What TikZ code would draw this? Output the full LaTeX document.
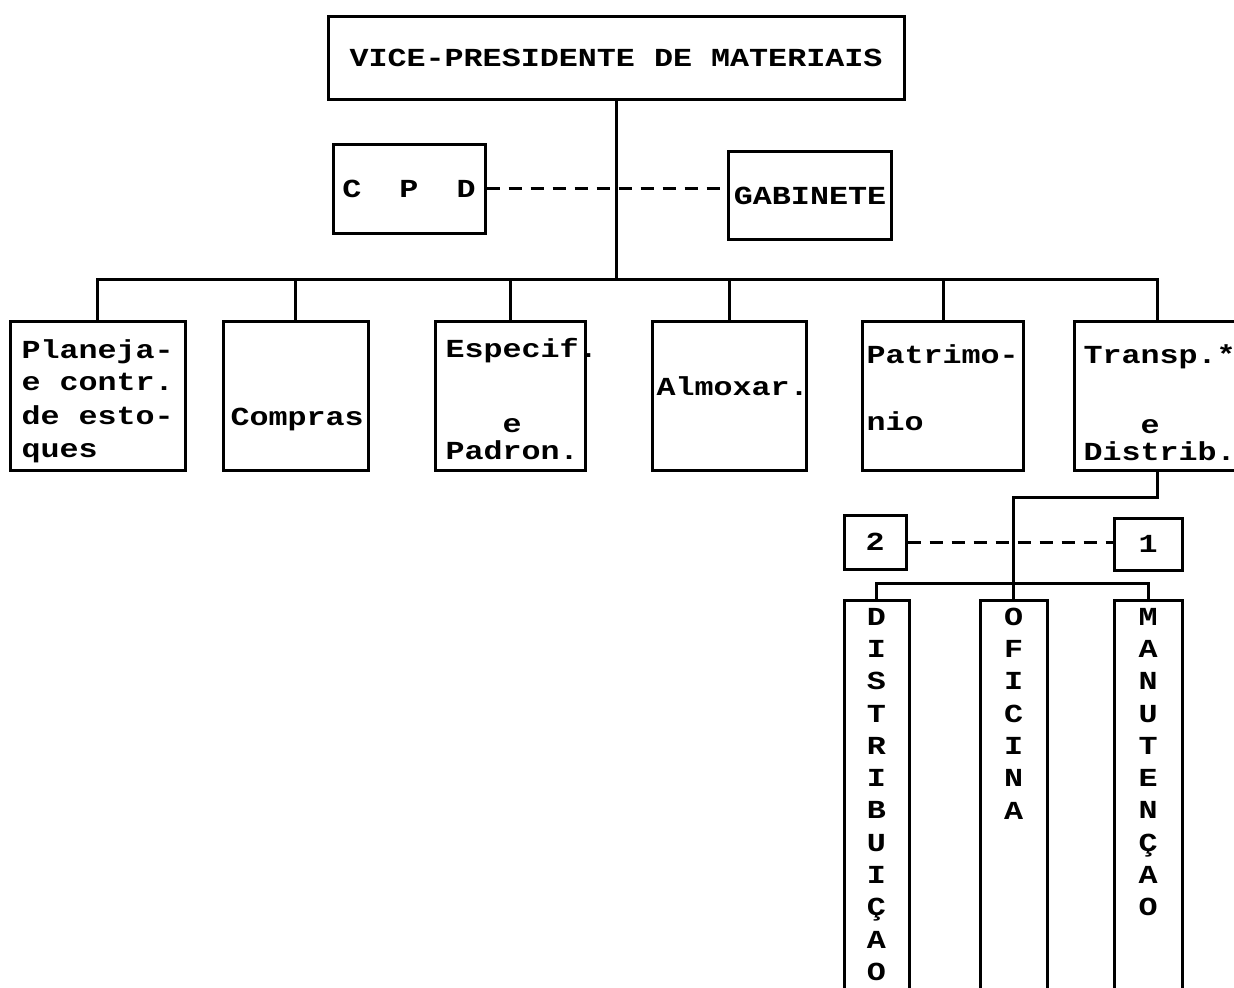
\documentclass[tikz,border=0pt]{standalone}
\usepackage{fontspec}
\newfontfamily\maquina[FakeStretch=1.22]{Liberation Mono}
\begin{document}
\begin{tikzpicture}[x=0.5pt,y=-0.5pt,line width=1.5pt]
\tikzstyle{every node}=[font=\maquina\bfseries\fontsize{13}{16.5}\selectfont,inner sep=0pt]
\tikzstyle{caixa}=[draw,rectangle]
\tikzstyle{texto}=[anchor=base west,align=left]
\tikzstyle{coluna}=[anchor=north,align=center,font=\maquina\bfseries\fontsize{13}{16.15}\selectfont]
\tikzstyle{tracejado}=[dash pattern=on 6.5pt off 4.5pt]
\useasboundingbox (0,0) rectangle (1234,988);
% topo
\node[caixa,minimum width=288pt,minimum height=41.5pt] (vp) at (616,58) {VICE-PRESIDENTE DE MATERIAIS};
\node[caixa,minimum width=76pt,minimum height=44.5pt] (cpd) at (409,189) {C~~P~~D};
\node[caixa,minimum width=81.5pt,minimum height=44pt] (gab) at (810,196) {GABINETE};
% departamentos
\node[caixa,minimum width=87.5pt,minimum height=74pt] (plan) at (97.5,396) {};
\node[caixa,minimum width=72.5pt,minimum height=74pt] (compras) at (295.5,396) {};
\node[caixa,minimum width=75pt,minimum height=74pt] (espec) at (510,396) {};
\node[caixa,minimum width=77pt,minimum height=74pt] (almox) at (729,396) {};
\node[caixa,minimum width=80.5pt,minimum height=74pt] (patr) at (943,396) {};
\node[caixa,minimum width=83pt,minimum height=74pt] (transp) at (1157,396) {};
\node[texto] (tplan) at (20,457) {Planeja-\\e contr.\\de esto-\\ques};
\node[texto] (tcompras) at (229,425) {Compras};
\node[texto] (tespec) at (444,459) {Especif.\\[21pt]~~~e\\[-3pt]Padron.};
\node[texto] (talmox) at (655,395) {Almoxar.};
\node[texto] (tpatr) at (865,430) {Patrimo-\\[17pt]nio};
\node[texto] (ttransp) at (1082,460) {Transp.*\\[18.5pt]~~~e\\[-3pt]Distrib.};
% transportes
\node[caixa,minimum width=31pt,minimum height=27pt] (dois) at (875,542) {2};
\node[caixa,minimum width=34pt,minimum height=26pt] (um) at (1148,544) {1};
\node[caixa,minimum width=32.5pt,minimum height=196pt] (dist) at (876.5,796) {};
\node[caixa,minimum width=33.5pt,minimum height=196pt] (ofic) at (1013.5,796) {};
\node[caixa,minimum width=34pt,minimum height=196pt] (manut) at (1148,796) {};
\node[coluna] (tdist) at ([yshift=-4pt]dist.north) {D\\I\\S\\T\\R\\I\\B\\U\\I\\Ç\\A\\O};
\node[coluna] (tofic) at ([yshift=-4pt]ofic.north) {O\\F\\I\\C\\I\\N\\A};
\node[coluna] (tmanut) at ([yshift=-4pt]manut.north) {M\\A\\N\\U\\T\\E\\N\\Ç\\A\\O};
% ligacoes
\coordinate (b1) at (vp.south |- 0,280);
\coordinate (b2) at (ofic.north |- 0,583);
\draw (vp) -- (b1);
\foreach \n in {plan,compras,espec,almox,patr,transp}
  \draw (\n.north) |- (b1);
\draw[tracejado] (cpd.east) -- (cpd.east -| gab.west);
\draw (transp.south) -- ++(0,26) -| (ofic.north);
\foreach \n in {dist,manut}
  \draw (\n.north) |- (b2);
\draw[tracejado] (dois.east) -- (dois.east -| um.west);
\end{tikzpicture}
\end{document}
